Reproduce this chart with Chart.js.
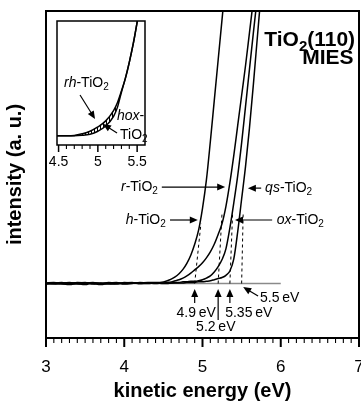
<!DOCTYPE html>
<html>
<head>
<meta charset="utf-8">
<script src="https://cdn.jsdelivr.net/npm/chart.js@4.4.1/dist/chart.umd.min.js"></script>
<style>
  body { margin: 0; background: #fff; }
  #wrap { position: relative; width: 361px; height: 403px; }
  #main { position: absolute; left: 0; top: 0; }
  #inset { position: absolute; left: 40px; top: 15px; }
</style>
</head>
<body>
<div id="wrap">
  <canvas id="main" width="361" height="403"></canvas>
  <canvas id="inset" width="110" height="157"></canvas>
</div>
<script>
// main spectra (MIES, kinetic energy in eV)
const energy = [3.0, 3.1, 3.2, 3.3, 3.4, 3.5, 3.6, 3.7, 3.8, 3.9, 4.0, 4.1, 4.2, 4.3, 4.4, 4.5,
  4.55, 4.6, 4.65, 4.7, 4.75, 4.8, 4.85, 4.9, 4.95, 5.0,
  5.05, 5.1, 5.15, 5.2, 5.25, 5.3, 5.35, 5.4, 5.45, 5.5,
  5.55, 5.6, 5.65, 5.7, 5.75, 5.8];
const hTiO2 = [0.01, 0.02, 0.00, -0.02, 0.01, 0.02, -0.01, 0.01, 0.00, -0.01, 0.02, 0.01, 0.01, 0.02, 0.02, 0.03,
  0.05, 0.08, 0.12, 0.18, 0.26, 0.37, 0.52, 0.72, 0.98, 1.38,
  1.9, 2.6, 3.35, 4.1, 4.85, 5.6, null, null, null, null,
  null, null, null, null, null, null];
const rTiO2 = [0.00, -0.01, 0.01, 0.02, 0.00, -0.02, 0.01, 0.00, 0.02, 0.01, -0.01, 0.00, 0.02, 0.01, 0.01, 0.01,
  0.02, 0.03, 0.05, 0.07, 0.10, 0.14, 0.19, 0.25, 0.31, 0.38,
  0.47, 0.58, 0.72, 0.90, 1.10, 1.42, 1.85, 2.35, 2.90, 3.45,
  4.00, 4.60, 5.20, null, null, null];
const qsTiO2 = [0.01, 0.00, -0.01, 0.00, 0.02, 0.01, 0.00, -0.02, 0.01, 0.02, 0.00, 0.01, 0.00, 0.01, 0.00, 0.01,
  0.01, 0.01, 0.02, 0.02, 0.03, 0.03, 0.04, 0.04, 0.05, 0.07,
  0.10, 0.14, 0.21, 0.31, 0.44, 0.64, 1.02, 1.48, 1.98, 2.58,
  3.25, 3.93, 4.60, 5.25, null, null];
const oxTiO2 = [-0.01, 0.01, 0.02, 0.00, -0.01, 0.01, 0.02, 0.00, -0.01, 0.00, 0.01, 0.02, 0.00, 0.00, 0.01, 0.00,
  0.00, 0.01, 0.01, 0.01, 0.01, 0.02, 0.02, 0.02, 0.03, 0.03,
  0.04, 0.05, 0.07, 0.09, 0.11, 0.15, 0.23, 0.45, 0.95, 1.55,
  2.15, 2.85, 3.65, 4.50, 5.35, null];

// onset extrapolations (dashed lines)
const onsets = [4.9, 5.2, 5.35, 5.5];
const tangentTopX = [4.98, 5.25, 5.385, 5.52];
const tangentTopY = [1.1, 1.3, 1.3, 1.3];
const baselineX = [3, 6];
const xTicks = [3, 4, 5, 6, 7];

// inset
const insetEnergy = [4.48, 4.6, 4.7, 4.8, 4.9, 5.0, 5.1, 5.2, 5.25, 5.3, 5.35, 5.4, 5.45, 5.5, 5.55];
const rhTiO2 = [0, 0, 0.003, 0.018, 0.04, 0.077, 0.13, 0.22, 0.29, 0.39, 0.5, 0.64, 0.8, 0.99, 1.2];
const hoxTiO2 = [0, 0, 0, 0.004, 0.014, 0.04, 0.085, 0.17, 0.25, 0.38, 0.5, 0.64, 0.8, 0.99, 1.2];
const insetTicks = [4.5, 5, 5.5];

const FONT = '"Liberation Sans", Arial, Helvetica, sans-serif';

const pts = (xs, ys) => xs.map((x, i) => ({ x: x, y: ys[i] })).filter(p => p.y !== null);

function curve(label, xs, ys) {
  return {
    label: label, data: pts(xs, ys), borderColor: '#000', borderWidth: 1.5,
    pointRadius: 0, cubicInterpolationMode: 'monotone', fill: false
  };
}

// text with italic / bold / subscript pieces
function drawRich(ctx, parts, x, y, size, align) {
  let total = 0;
  const made = parts.map(([t, s]) => {
    const sub = s.includes('s');
    const fs = sub ? Math.round(size * 0.7) : size;
    const f = (s.includes('i') ? 'italic ' : '') + (s.includes('b') ? 'bold ' : '') + fs + 'px ' + FONT;
    ctx.font = f;
    const w = ctx.measureText(t).width;
    total += w;
    return { t, f, w, sub };
  });
  let cx = align === 'right' ? x - total : align === 'center' ? x - total / 2 : x;
  ctx.textAlign = 'left';
  ctx.textBaseline = 'middle';
  ctx.fillStyle = '#000';
  made.forEach(m => {
    ctx.font = m.f;
    ctx.fillText(m.t, cx, m.sub ? y + size * 0.32 : y);
    cx += m.w;
  });
}

function arrow(ctx, x1, y1, x2, y2, head, half) {
  const a = Math.atan2(y2 - y1, x2 - x1);
  const c = Math.cos(a), s = Math.sin(a);
  ctx.beginPath();
  ctx.moveTo(x1, y1);
  ctx.lineTo(x2 - c * head * 0.7, y2 - s * head * 0.7);
  ctx.stroke();
  ctx.beginPath();
  ctx.moveTo(x2, y2);
  ctx.lineTo(x2 - head * c + half * s, y2 - head * s - half * c);
  ctx.lineTo(x2 - head * c - half * s, y2 - head * s + half * c);
  ctx.closePath();
  ctx.fill();
}

const mainNotes = [
  { parts: [['r', 'i'], ['-TiO', ''], ['2', 's']], at: [4.43, 1.77], align: 'right', arrow: [4.48, 1.77, 5.29, 1.77] },
  { parts: [['h', 'i'], ['-TiO', ''], ['2', 's']], at: [4.53, 1.165], align: 'right', arrow: [4.585, 1.165, 4.94, 1.165] },
  { parts: [['qs', 'i'], ['-TiO', ''], ['2', 's']], at: [5.80, 1.75], align: 'left', arrow: [5.75, 1.75, 5.58, 1.75] },
  { parts: [['ox', 'i'], ['-TiO', ''], ['2', 's']], at: [5.95, 1.165], align: 'left', arrow: [5.89, 1.165, 5.415, 1.165] },
  { parts: [[onsets[0] + '\u2009eV', '']], at: [4.92, -0.55], align: 'center', arrow: [onsets[0], -0.36, onsets[0], -0.1] },
  { parts: [[onsets[1] + '\u2009eV', '']], at: [5.17, -0.8], align: 'center', arrow: [onsets[1], -0.67, onsets[1], -0.1] },
  { parts: [[onsets[2] + '\u2009eV', '']], at: [5.29, -0.55], align: 'left', arrow: [onsets[2], -0.36, onsets[2], -0.1] },
  { parts: [[onsets[3] + '\u2009eV', '']], at: [5.735, -0.27], align: 'left', arrow: [5.71, -0.23, 5.52, -0.065] },
  { parts: [['TiO', 'b'], ['2', 'bs'], ['(110)', 'b']], at: [6.95, 4.47], align: 'right', size: 21 },
  { parts: [['MIES', 'b']], at: [6.93, 4.13], align: 'right', size: 21 }
];

const insetNotes = [
  { parts: [['rh', 'i'], ['-TiO', ''], ['2', 's']], at: [4.569, 0.46], align: 'left', arrow: [4.773, 0.355, 4.964, 0.146] },
  { parts: [['hox', 'i'], ['-', '']], at: [5.244, 0.172], align: 'left' },
  { parts: [['TiO', ''], ['2', 's']], at: [5.282, 0.007], align: 'left', arrow: [5.244, 0.024, 5.065, 0.103] }
];

// frame, tick marks every 0.1, tick labels and annotations, placed through the chart's scales
function framePlugin(notes, opts) {
  return {
    id: 'frame',
    afterDraw(chart) {
      const ctx = chart.ctx, a = chart.chartArea;
      const xs = chart.scales.x, ys = chart.scales.y;
      ctx.save();
      ctx.strokeStyle = '#000';
      ctx.lineWidth = opts.frame;
      ctx.strokeRect(a.left, a.top, a.right - a.left, a.bottom - a.top);
      const k0 = Math.round(opts.tickFrom * 10), k1 = Math.round(opts.tickTo * 10);
      for (let k = k0; k <= k1; k++) {
        const major = opts.majors.some(m => Math.abs(m * 10 - k) < 1e-6);
        const px = xs.getPixelForValue(k / 10);
        ctx.lineWidth = major ? opts.frame : 1.1;
        ctx.beginPath();
        ctx.moveTo(px, a.bottom);
        ctx.lineTo(px, a.bottom + (major ? opts.majorLen : opts.minorLen));
        ctx.stroke();
      }
      opts.majors.forEach(m => {
        drawRich(ctx, [[String(m), '']], xs.getPixelForValue(m), a.bottom + opts.labelGap, opts.labelSize, 'center');
      });
      ctx.fillStyle = '#000';
      ctx.lineWidth = 1.2;
      notes.forEach(n => {
        if (n.arrow) {
          const [x1, y1, x2, y2] = n.arrow;
          arrow(ctx, xs.getPixelForValue(x1), ys.getPixelForValue(y1),
            xs.getPixelForValue(x2), ys.getPixelForValue(y2), 8, 3.5);
        }
        drawRich(ctx, n.parts, xs.getPixelForValue(n.at[0]), ys.getPixelForValue(n.at[1]),
          n.size || opts.noteSize, n.align);
      });
      ctx.restore();
    }
  };
}

const dashed = onsets.map((x0, i) => ({
  label: 'onset ' + x0,
  data: [{ x: x0, y: 0 }, { x: tangentTopX[i], y: tangentTopY[i] }],
  borderColor: '#000', borderWidth: 1, borderDash: [3, 3], pointRadius: 0, fill: false
}));

new Chart(document.getElementById('main'), {
  type: 'line',
  data: {
    datasets: [
      {
        label: 'baseline', data: baselineX.map(x => ({ x: x, y: 0 })),
        borderColor: '#8a8a8a', borderWidth: 1.6, pointRadius: 0, fill: false, order: 10
      },
      curve('h-TiO2', energy, hTiO2),
      curve('r-TiO2', energy, rTiO2),
      curve('qs-TiO2', energy, qsTiO2),
      curve('ox-TiO2', energy, oxTiO2)
    ].concat(dashed)
  },
  options: {
    responsive: false,
    animation: false,
    devicePixelRatio: 1,
    layout: { padding: { top: 11, right: 2, left: 0, bottom: 0 } },
    plugins: { legend: { display: false }, tooltip: { enabled: false } },
    scales: {
      x: {
        type: 'linear', min: 3, max: 7,
        afterFit: s => { s.height = 65; },
        grid: { display: false, drawTicks: false },
        border: { display: false },
        ticks: { display: false },
        title: {
          display: true, text: 'kinetic energy (eV)', color: '#000',
          font: { family: FONT, size: 20, weight: 'bold' }, padding: { top: 0, bottom: 0 }
        }
      },
      y: {
        min: -1, max: 5,
        afterFit: s => { s.width = 46; },
        grid: { display: false, drawTicks: false },
        border: { display: false },
        ticks: { display: false },
        title: {
          display: true, text: 'intensity (a. u.)', color: '#000',
          font: { family: FONT, size: 20, weight: 'bold' }, padding: { top: 3, bottom: 0 }
        }
      }
    }
  },
  plugins: [framePlugin(mainNotes, {
    frame: 2, tickFrom: 3, tickTo: 7, majors: xTicks, majorLen: 9, minorLen: 5,
    labelGap: 29, labelSize: 17, noteSize: 14
  })]
});

// inset with hatched difference between rh- and hox-TiO2
const insetCanvas = document.getElementById('inset');
const pc = document.createElement('canvas');
pc.width = 3; pc.height = 3;
const pctx = pc.getContext('2d');
pctx.fillStyle = '#000';
pctx.fillRect(0, 0, 1, 3);
const hatch = insetCanvas.getContext('2d').createPattern(pc, 'repeat');

new Chart(insetCanvas, {
  type: 'line',
  data: {
    datasets: [
      curve('rh-TiO2', insetEnergy, rhTiO2),
      Object.assign(curve('hox-TiO2', insetEnergy, hoxTiO2), { fill: '-1', backgroundColor: hatch })
    ]
  },
  options: {
    responsive: false,
    animation: false,
    devicePixelRatio: 1,
    layout: { padding: { left: 17, right: 5, top: 6, bottom: 0 } },
    plugins: { legend: { display: false }, tooltip: { enabled: false } },
    scales: {
      x: {
        type: 'linear', min: 4.48, max: 5.6,
        afterFit: s => { s.height = 27; },
        grid: { display: false, drawTicks: false },
        border: { display: false },
        ticks: { display: false }
      },
      y: { display: false, min: -0.08, max: 1.0 }
    }
  },
  plugins: [framePlugin(insetNotes, {
    frame: 1.5, tickFrom: 4.5, tickTo: 5.5, majors: insetTicks, majorLen: 7, minorLen: 4,
    labelGap: 17, labelSize: 14, noteSize: 14
  })]
});
</script>
</body>
</html>
